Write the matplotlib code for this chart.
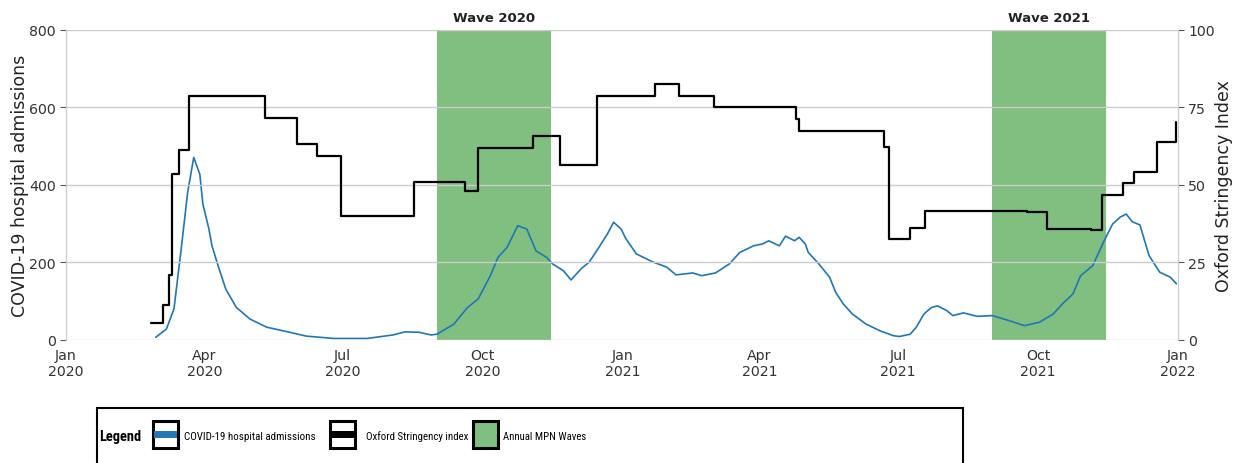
import matplotlib
matplotlib.use("Agg")
import matplotlib.pyplot as plt
import matplotlib.dates as mdates
from matplotlib.patches import Rectangle
import pandas as pd
import seaborn as sns

# daily COVID-19 hospital admissions (smoothed)
admission_dates = [
    "2020-02-29", "2020-03-07", "2020-03-12", "2020-03-17", "2020-03-21", "2020-03-25",
    "2020-03-29", "2020-03-31", "2020-04-04", "2020-04-06", "2020-04-10", "2020-04-15",
    "2020-04-22", "2020-05-01", "2020-05-12", "2020-05-27", "2020-06-07", "2020-06-25",
    "2020-07-17", "2020-08-03", "2020-08-11", "2020-08-20", "2020-08-28", "2020-09-01",
    "2020-09-12", "2020-09-21", "2020-09-28", "2020-10-06", "2020-10-11", "2020-10-17",
    "2020-10-24", "2020-10-30", "2020-11-05", "2020-11-12", "2020-11-16", "2020-11-23",
    "2020-11-28", "2020-12-05", "2020-12-10", "2020-12-17", "2020-12-22", "2020-12-26",
    "2020-12-31", "2021-01-03", "2021-01-10", "2021-01-21", "2021-01-30", "2021-02-05",
    "2021-02-16", "2021-02-22", "2021-03-03", "2021-03-12", "2021-03-19", "2021-03-28",
    "2021-04-03", "2021-04-07", "2021-04-14", "2021-04-18", "2021-04-24", "2021-04-27",
    "2021-05-01", "2021-05-03", "2021-05-10", "2021-05-17", "2021-05-21", "2021-05-26",
    "2021-06-01", "2021-06-10", "2021-06-19", "2021-06-28", "2021-07-02", "2021-07-09",
    "2021-07-13", "2021-07-18", "2021-07-23", "2021-07-27", "2021-08-02", "2021-08-06",
    "2021-08-13", "2021-08-22", "2021-09-01", "2021-09-12", "2021-09-22", "2021-10-02",
    "2021-10-11", "2021-10-17", "2021-10-24", "2021-10-29", "2021-11-06", "2021-11-13",
    "2021-11-19", "2021-11-24", "2021-11-28", "2021-12-02", "2021-12-07", "2021-12-13",
    "2021-12-20", "2021-12-27", "2021-12-31",
]
admissions = [
    7, 28, 80, 243, 381, 471,
    428, 351, 286, 243, 192, 132,
    84, 54, 33, 20, 10, 4,
    4, 13, 21, 20, 13, 15,
    41, 84, 106, 166, 213, 239,
    295, 286, 230, 213, 196, 179,
    155, 185, 201, 243, 274, 304,
    286, 262, 222, 201, 188, 168,
    173, 166, 173, 196, 226, 243,
    248, 256, 243, 268, 256, 265,
    248, 226, 196, 162, 123, 93,
    67, 41, 24, 11, 9, 15,
    33, 67, 84, 88, 76, 63,
    70, 61, 63, 50, 37, 46,
    67, 93, 119, 166, 192, 252,
    299, 317, 325, 305, 297, 218,
    175, 162, 145,
]

# Oxford stringency index, value from each change date onwards
stringency_dates = [
    "2020-02-26", "2020-03-05", "2020-03-09", "2020-03-11", "2020-03-15", "2020-03-22",
    "2020-05-11", "2020-06-01", "2020-06-14", "2020-06-30", "2020-08-17", "2020-09-19",
    "2020-09-28", "2020-11-03", "2020-11-21", "2020-12-15", "2021-01-22", "2021-02-07",
    "2021-03-02", "2021-04-25", "2021-04-27", "2021-06-22", "2021-06-25", "2021-07-09",
    "2021-07-19", "2021-09-24", "2021-10-07", "2021-11-05", "2021-11-12", "2021-11-26",
    "2021-12-03", "2021-12-18", "2021-12-31",
]
stringency = [
    5.6, 11.3, 21.0, 53.7, 61.3, 78.8,
    71.5, 63.1, 59.4, 39.9, 51.1, 48.2,
    62.0, 65.8, 56.5, 78.8, 82.5, 78.8,
    75.0, 71.3, 67.5, 62.1, 32.6, 36.1,
    41.7, 41.3, 35.8, 35.5, 46.8, 50.5,
    54.1, 64.0, 70.3,
]

wave_labels = ["Wave 2020", "Wave 2021"]
wave_starts = ["2020-09-01", "2021-09-01"]
wave_ends = ["2020-11-15", "2021-11-15"]

BLUE = "#1f77b4"
GREEN = (0.5, 0.75, 0.5)

sns.set_style("white")
plt.rcParams["font.family"] = ["DejaVu Sans"]

fig = plt.figure(figsize=(12.35, 4.64), dpi=100)
ax1 = fig.add_axes([0.0534, 0.2651, 0.9004, 0.6681])
ax2 = ax1.twinx()

adm_x = pd.to_datetime(admission_dates)
str_x = pd.to_datetime(stringency_dates)

for label, start, end in zip(wave_labels, wave_starts, wave_ends):
    s, e = pd.Timestamp(start), pd.Timestamp(end)
    ax1.axvspan(s, e, color=GREEN, lw=0, zorder=0)
    mid = s + (e - s) / 2
    ax1.text(mid, 1.02, label, transform=ax1.get_xaxis_transform(), ha="center", va="bottom",
             fontsize=9.5, fontweight="bold", color="#222222")

ax1.plot(adm_x, admissions, color=BLUE, lw=1.2, zorder=2)
ax2.plot(str_x, stringency, color="black", lw=1.6, drawstyle="steps-post")

ax1.set_xlim(pd.Timestamp("2020-01-01"), pd.Timestamp("2022-01-01"))
ax1.set_ylim(0, 800)
ax2.set_ylim(0, 100)
ax1.set_yticks([0, 200, 400, 600, 800])
ax2.set_yticks([0, 25, 50, 75, 100])
ax1.xaxis.set_major_locator(mdates.MonthLocator(bymonth=[1, 4, 7, 10]))
ax1.xaxis.set_major_formatter(mdates.DateFormatter("%b\n%Y"))

ax1.grid(False)
ax2.grid(True, axis="y", color="#cccccc", lw=1)
for ax in (ax1, ax2):
    for side in ax.spines.values():
        side.set_color("#cccccc")
    ax.spines["top"].set_visible(False)
    ax.spines["bottom"].set_visible(False)
ax1.tick_params(axis="x", colors="#bbbbbb", labelcolor="#333333", labelsize=10.2, length=3, pad=2.5)
ax1.tick_params(axis="y", colors="#555555", labelcolor="#333333", labelsize=10.2, length=4)
ax2.tick_params(axis="y", colors="#555555", labelcolor="#333333", labelsize=10.2, length=4)

ax1.set_ylabel("COVID-19 hospital admissions", fontsize=12.5, color="#222222")
ax2.set_ylabel("Oxford Stringency Index", fontsize=12.5, color="#222222")
ax1.yaxis.set_label_coords(-0.0333, 0.5)
ax2.yaxis.set_label_coords(1.0333, 0.5)

# legend panel below the chart, in figure pixel units
W, H = 1235.0, 464.0


def fx(px):
    return px / W


def fy(py):
    return 1 - py / H


def fit_width(txt, width_px):
    # shrink or grow a text so that it spans the given width in pixels
    renderer = fig.canvas.get_renderer()
    current = txt.get_window_extent(renderer).width
    txt.set_fontsize(txt.get_fontsize() * width_px / current)


fig.add_artist(Rectangle((fx(97), fy(480)), fx(866), fy(409) - fy(480), transform=fig.transFigure,
                         facecolor="white", edgecolor="black", lw=1.5, clip_on=False))
leg_font = ["Roboto Condensed", "Liberation Sans", "DejaVu Sans"]
head = fig.text(fx(99), fy(437), "Legend", fontsize=12, fontweight="bold", family=leg_font,
                va="center", ha="left", color="black")
fit_width(head, 42)

key_y0, key_y1 = 422, 449
keys = [
    (153, "band", BLUE, "COVID-19 hospital admissions", 184, 131),
    (330, "band", "black", "Oxford Stringency index", 366, 102),
    (473, "fill", GREEN, "Annual MPN Waves", 503, 83),
]
for kx, kind, col, text, tx, tw in keys:
    face = col if kind == "fill" else "white"
    fig.add_artist(Rectangle((fx(kx), fy(key_y1)), fx(25), fy(key_y0) - fy(key_y1),
                             transform=fig.transFigure, facecolor=face, edgecolor="black", lw=2.2))
    if kind == "band":
        fig.add_artist(Rectangle((fx(kx + 1), fy(439)), fx(23), fy(432) - fy(439),
                                 transform=fig.transFigure, facecolor=col, edgecolor="none"))
    t = fig.text(fx(tx), fy(437), text, fontsize=10, family=leg_font, va="center", ha="left",
                 color="black")
    fit_width(t, tw)

fig.savefig("out.png", dpi=100)
